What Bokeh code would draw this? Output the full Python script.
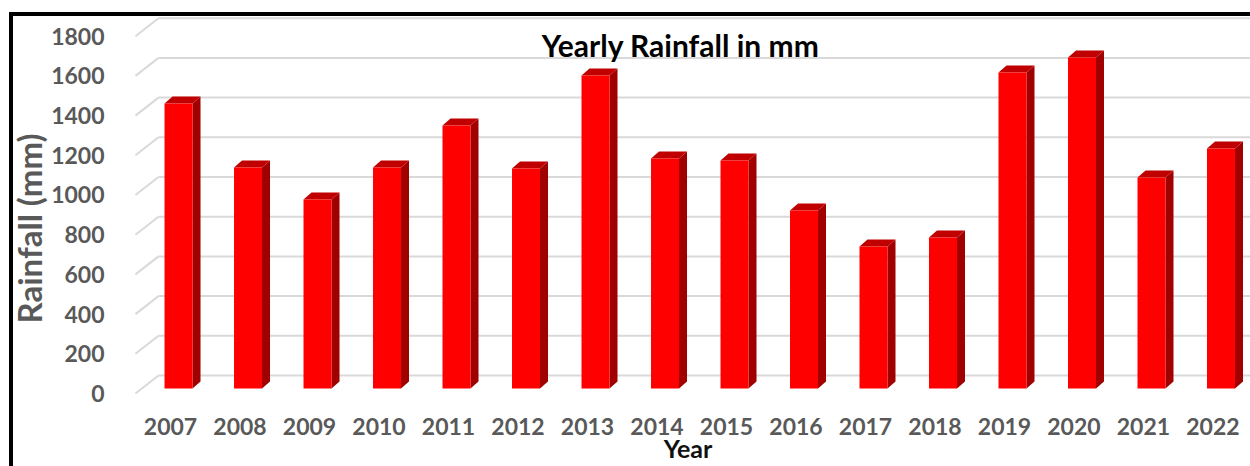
from bokeh.plotting import figure
from bokeh.models import (Range1d, LinearAxis, FixedTicker, ColumnDataSource, Label, Title)
from bokeh.embed import file_html
from bokeh.resources import INLINE

# ---- data ----
years = ["2007", "2008", "2009", "2010", "2011", "2012", "2013", "2014",
         "2015", "2016", "2017", "2018", "2019", "2020", "2021", "2022"]
rainfall = [1436, 1113, 952, 1113, 1325, 1108, 1577, 1159,
            1149, 897, 715, 761, 1592, 1668, 1063, 1209]
y_ticks = [0, 200, 400, 600, 800, 1000, 1200, 1400, 1600, 1800]

# ---- styling / geometry constants ----
FONT = "Lato"
GRAY = "#595959"
FRONT_L, FRONT_R = -0.086, 0.317   # bar front face relative to category centre
DX, DY = 0.115, 35                  # 3D depth offset (x units, y units)
GRID_OFF = 65.5                     # back-wall offset in y units
LBL_OFF = 25.2                      # front axis offset in y units
DIAG_X0, DIAG_X1 = -0.504, -0.173
X0, X1 = -0.6475, 15.54
Y0, Y1 = -50.4, 1874

xs_idx = list(range(len(years)))

frame_css = {
    "background-image": "linear-gradient(#000, #000), linear-gradient(#000, #000)",
    "background-size": "4px 100%, 100% 4px",
    "background-position": "9px 12px, 9px 12px",
    "background-repeat": "no-repeat",
}

p = figure(width=1250, height=466,
           x_range=Range1d(X0, X1), y_range=Range1d(Y0, Y1),
           output_backend="svg", toolbar_location=None,
           x_axis_location=None, y_axis_location=None,
           min_border_left=125, min_border_right=0,
           min_border_top=16, min_border_bottom=68,
           outline_line_color=None,
           background_fill_color="white", border_fill_alpha=0,
           styles=frame_css)
p.grid.visible = False
p.extra_y_ranges = {"front": Range1d(Y0 + LBL_OFF, Y1 + LBL_OFF)}

# back wall gridlines + diagonal floor/side lines
grid_src = ColumnDataSource(dict(
    gx0=[DIAG_X1] * len(y_ticks), gx1=[X1] * len(y_ticks),
    gy=[t + GRID_OFF for t in y_ticks],
    dx0=[DIAG_X0] * len(y_ticks), dy0=[t - LBL_OFF for t in y_ticks],
))
p.segment(x0="gx0", y0="gy", x1="gx1", y1="gy", source=grid_src,
          line_color="#d9d9d9", line_width=2)
p.segment(x0="dx0", y0="dy0", x1="gx0", y1="gy", source=grid_src,
          line_color="#d9d9d9", line_width=2)

# 3D bars
left = [i + FRONT_L for i in xs_idx]
right = [i + FRONT_R for i in xs_idx]
bars = ColumnDataSource(dict(left=left, right=right, top=rainfall,
                             bottom=[0] * len(years)))
side_xs = [[r, r + DX, r + DX, r] for r in right]
side_ys = [[0, DY, v + DY, v] for v in rainfall]
top_xs = [[l, l + DX, r + DX, r] for l, r in zip(left, right)]
top_ys = [[v, v + DY, v + DY, v] for v in rainfall]

p.patches(xs=side_xs, ys=side_ys, fill_color="#a00000", line_color=None)
p.patches(xs=top_xs, ys=top_ys, fill_color="#c00000", line_color=None)
p.quad(left="left", right="right", bottom="bottom", top="top", source=bars,
       fill_color="#ff0000", line_color=None)

# axes
yax = LinearAxis(y_range_name="front", ticker=FixedTicker(ticks=y_ticks))
xax = LinearAxis(ticker=FixedTicker(ticks=xs_idx), axis_label="Year",
                 major_label_overrides={i: y for i, y in zip(xs_idx, years)})
for ax in (xax, yax):
    ax.axis_line_color = None
    ax.major_tick_line_color = None
    ax.minor_tick_line_color = None
    ax.major_label_text_font = FONT
    ax.major_label_text_font_style = "bold"
    ax.major_label_text_font_size = "23px"
    ax.major_label_text_color = GRAY
yax.major_label_standoff = 15
xax.major_label_standoff = 13
xax.axis_label_text_font = FONT
xax.axis_label_text_font_style = "bold"
xax.axis_label_text_font_size = "25px"
xax.axis_label_text_color = "#111111"
xax.axis_label_standoff = -5
p.add_layout(yax, "left")
p.add_layout(xax, "below")

# y axis title as a left-side title panel
ytitle = Title(text="Rainfall (mm)", align="left", standoff=0, offset=75,
               text_font=FONT, text_font_style="bold",
               text_font_size="33px", text_color=GRAY)
p.add_layout(ytitle, "left")

title = Label(x=7.34, y=1728, text="Yearly Rainfall in mm",
              text_font=FONT, text_font_style="bold",
              text_font_size="30px", text_color="#000000",
              text_align="center", text_baseline="middle")
p.add_layout(title)

open("out.html", "w").write(file_html(p, INLINE))
